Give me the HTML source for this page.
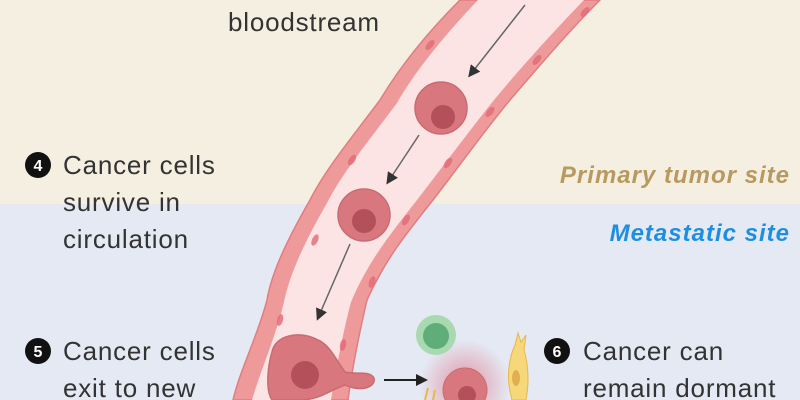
<!DOCTYPE html>
<html><head><meta charset="utf-8"><style>
html,body{margin:0;padding:0;width:800px;height:400px;overflow:hidden;font-family:"Liberation Sans",sans-serif}
svg{display:block}
</style></head><body>
<svg width="800" height="400" viewBox="0 0 800 400" xmlns="http://www.w3.org/2000/svg">
<defs>
<radialGradient id="glow"><stop offset="0" stop-color="#e05060" stop-opacity="0.55"/><stop offset="1" stop-color="#e05060" stop-opacity="0"/></radialGradient>
<marker id="ah" markerWidth="8" markerHeight="8" refX="6" refY="4" orient="auto"><path d="M0,0 L8,4 L0,8 Z" fill="#333"/></marker>
<marker id="ah2" markerWidth="6" markerHeight="6" refX="5" refY="3" orient="auto"><path d="M0,0 L6,3 L0,6 Z" fill="#222"/></marker>
</defs>
<rect width="800" height="204" fill="#f5efe2"/>
<rect y="204" width="800" height="196" fill="#e4e9f4"/>
<!-- vessel -->
<path d="M460,0 C420,40 395,75 380,100 C350,140 325,170 310,200 C290,235 272,270 267,300 C258,335 240,370 233,400 L348,400 C352,370 360,330 367,300 C385,260 405,235 433,200 C460,165 485,130 510,100 C540,65 570,30 600,0 Z" fill="#ef9a9a" stroke="#e07d80" stroke-width="1.5"/>
<path d="M478,0 C440,40 413,75 397,103 C368,142 343,172 327,203 C307,238 290,272 284,302 C276,336 260,372 252,400 L331,400 C336,370 343,332 351,302 C368,262 388,237 417,200 C444,165 470,130 494,100 C523,65 555,30 584,0 Z" fill="#fde4e4"/>
<g fill="#e06a75" opacity="0.8">
<ellipse cx="430" cy="45" rx="3" ry="6" transform="rotate(40 430 45)"/>
<ellipse cx="352" cy="160" rx="3" ry="6" transform="rotate(35 352 160)"/>
<ellipse cx="315" cy="240" rx="3" ry="6" transform="rotate(25 315 240)"/>
<ellipse cx="280" cy="320" rx="3" ry="6" transform="rotate(15 280 320)"/>
<ellipse cx="585" cy="12" rx="3" ry="6" transform="rotate(40 585 12)"/>
<ellipse cx="537" cy="60" rx="3" ry="6" transform="rotate(40 537 60)"/>
<ellipse cx="490" cy="112" rx="3" ry="6" transform="rotate(40 490 112)"/>
<ellipse cx="448" cy="163" rx="3" ry="6" transform="rotate(35 448 163)"/>
<ellipse cx="406" cy="220" rx="3" ry="6" transform="rotate(30 406 220)"/>
<ellipse cx="372" cy="282" rx="3" ry="6" transform="rotate(20 372 282)"/>
<ellipse cx="343" cy="345" rx="3" ry="6" transform="rotate(12 343 345)"/>
</g>
<!-- arrows -->
<path d="M525,5 L470,75" stroke="#666" stroke-width="1.5" fill="none" marker-end="url(#ah)"/>
<path d="M419,135 L388,182" stroke="#666" stroke-width="1.5" fill="none" marker-end="url(#ah)"/>
<path d="M350,244 L318,318" stroke="#666" stroke-width="1.5" fill="none" marker-end="url(#ah)"/>
<path d="M384,380 L426,380" stroke="#222" stroke-width="2" fill="none" marker-end="url(#ah2)"/>
<!-- cells -->
<g stroke="#c96b72" stroke-width="1.5">
<circle cx="441" cy="108" r="26" fill="#d9777e"/>
<circle cx="443" cy="117" r="12" fill="#b3505a" stroke="none"/>
<circle cx="364" cy="215" r="26" fill="#d9777e"/>
<circle cx="364" cy="221" r="12" fill="#b3505a" stroke="none"/>
<path d="M272,352 C275,335 300,330 318,340 C330,345 336,360 345,372 C355,375 370,370 374,378 C376,388 360,392 345,385 C330,390 320,400 300,400 L272,400 C265,390 268,365 272,352 Z" fill="#d9777e"/>
<circle cx="305" cy="375" r="14" fill="#b3505a" stroke="none"/>
</g>
<circle cx="465" cy="385" r="45" fill="url(#glow)"/>
<circle cx="436" cy="335" r="20" fill="#a9d9b0"/>
<circle cx="436" cy="336" r="13" fill="#5fad78"/>
<circle cx="465" cy="390" r="22" fill="#d9777e" stroke="#c96b72"/>
<circle cx="467" cy="395" r="9" fill="#b3505a"/>
<path d="M512,400 C506,380 508,360 515,345 L518,333 L521,342 L526,335 L524,350 C530,370 528,390 526,400 Z" fill="#f6d77a" stroke="#e6b84a"/>
<ellipse cx="516" cy="378" rx="4" ry="8" fill="#e0b050"/>
<path d="M425,400 L428,388 M433,400 L435,390" stroke="#e6b84a" stroke-width="2"/>
<!-- text -->
<g font-size="26" fill="#333" letter-spacing="0.8">
<text x="228" y="31">bloodstream</text>
<text x="63" y="174">Cancer cells</text>
<text x="63" y="211">survive in</text>
<text x="63" y="248">circulation</text>
<text x="63" y="360">Cancer cells</text>
<text x="63" y="397">exit to new</text>
<text x="583" y="360">Cancer can</text>
<text x="583" y="397">remain dormant</text>
</g>
<g font-size="16" font-weight="bold" fill="#fff" text-anchor="middle">
<circle cx="38" cy="165" r="13" fill="#111"/><text x="38" y="171">4</text>
<circle cx="38" cy="351" r="13" fill="#111"/><text x="38" y="357">5</text>
<circle cx="557" cy="351" r="13" fill="#111"/><text x="557" y="357">6</text>
</g>
<text x="790" y="183" font-size="24" font-weight="bold" font-style="italic" fill="#b8995f" text-anchor="end" letter-spacing="1">Primary tumor site</text>
<text x="790" y="241" font-size="24" font-weight="bold" font-style="italic" fill="#1e8fe0" text-anchor="end" letter-spacing="1">Metastatic site</text>
</svg>
</body></html>
